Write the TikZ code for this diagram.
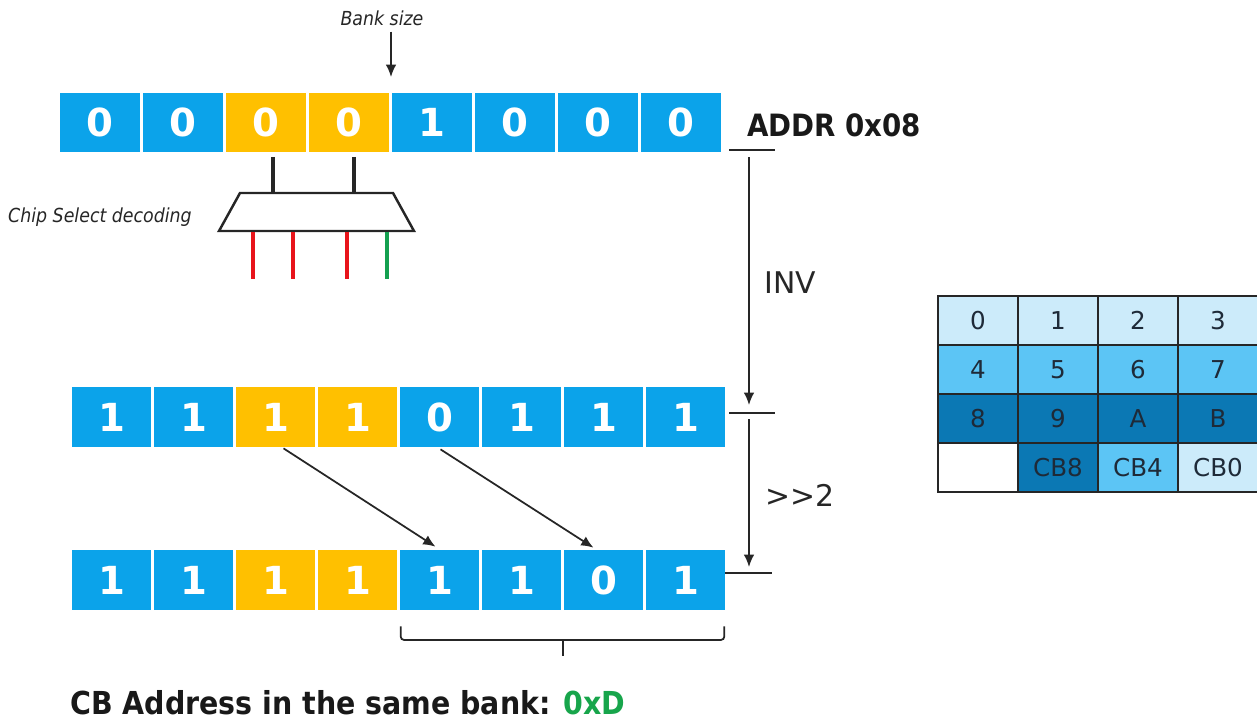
\documentclass[tikz,border=0pt]{standalone}
\usepackage{fontspec}
\setmainfont{DejaVu Sans}
\newfontfamily\condfont{DejaVu Sans Condensed}
\usetikzlibrary{arrows.meta}

\definecolor{bitblue}{HTML}{0BA3EA}
\definecolor{bitgold}{HTML}{FFC000}
\definecolor{cblight}{HTML}{CCEBFA}
\definecolor{cbmid}{HTML}{5CC5F5}
\definecolor{cbdark}{HTML}{0B78B4}
\definecolor{cbtext}{HTML}{1E2A38}
\definecolor{csred}{HTML}{E8141B}
\definecolor{csgreen}{HTML}{14A050}
\definecolor{hexgreen}{HTML}{17A54B}

\tikzset{
  topbit/.style={minimum width=1.6cm, minimum height=1.18cm, inner sep=0pt,
    text=white, font=\fontsize{22}{22}\selectfont\bfseries},
  bit/.style={topbit, minimum width=1.58cm, minimum height=1.2cm},
  cbcell/.style={draw=black!85, line width=0.9pt, minimum width=1.6cm,
    minimum height=0.98cm, inner sep=0pt, text=cbtext,
    font=\fontsize{14}{14}\selectfont},
  note/.style={font=\condfont\itshape\fontsize{11}{11}\selectfont, text=black!85},
  oplabel/.style={font=\fontsize{17}{17}\selectfont, text=black!85},
  arr/.style={-{Latex[length=7pt,width=6pt]}, line width=1pt, black!85},
  tick/.style={line width=1pt, black!85},
}

\begin{document}
\begin{tikzpicture}[x=0.02cm, y=-0.02cm]
    \useasboundingbox (0,0) rectangle (1257,725);

    % address
    \foreach \b/\c [count=\i] in {0/bitblue,0/bitblue,0/bitgold,0/bitgold,1/bitblue,0/bitblue,0/bitblue,0/bitblue}
        \node[topbit, fill=\c] (a\i) at ({100+83*(\i-1)},122) {\b};
    \node[anchor=west, font=\condfont\bfseries\fontsize{17.5}{17.5}\selectfont, text=black!90] (addr) at (741,125) {ADDR 0x08};

    % bank size
    \node[note] (banksize) at (382,18) {Bank size};
    \coordinate (bankcut) at (391,77);
    \draw[arr] (bankcut |- banksize.south) -- (bankcut);

    % chip select
    \coordinate (muxtl) at (240,193);
    \coordinate (muxtr) at (393,193);
    \coordinate (muxbr) at (414,231);
    \coordinate (muxbl) at (219,231);
    \draw[line width=1.4pt, black!85] (muxtl) -- (muxtr) -- (muxbr) -- (muxbl) -- cycle;
    \draw[line width=2.8pt, black!85] ([shift={(7,5)}]a3.south) -- ++(0,36);
    \draw[line width=2.8pt, black!85] ([shift={(5,5)}]a4.south) -- ++(0,36);
    \foreach \x/\c in {253/csred,293/csred,347/csred,387/csgreen}
        \draw[line width=2.3pt, \c] (\x,232) -- (\x,279);
    \node[note] (csd) at (100,217) {Chip Select decoding};

    % inverted
    \foreach \b/\c [count=\i] in {1/bitblue,1/bitblue,1/bitgold,1/bitgold,0/bitblue,1/bitblue,1/bitblue,1/bitblue}
        \node[bit, fill=\c] (b\i) at ({111.5+82*(\i-1)},417) {\b};

    % shifted
    \foreach \b/\c [count=\i] in {1/bitblue,1/bitblue,1/bitgold,1/bitgold,1/bitblue,1/bitblue,0/bitblue,1/bitblue}
        \node[bit, fill=\c] (c\i) at ({111.5+82*(\i-1)},580) {\b};

    % steps
    \coordinate (tick1) at (749,150);
    \coordinate (tick2) at (749,413);
    \coordinate (tick3) at (749,573);
    \draw[tick] (729,150) -- (775,150);
    \draw[tick] (729,413) -- (775,413);
    \draw[tick] (c8.east |- tick3) -- (772,573);
    \draw[arr] ([shift={(0,7)}]tick1) -- ([shift={(0,-8)}]tick2);
    \draw[arr] ([shift={(0,6)}]tick2) -- ([shift={(0,-6)}]tick3);
    \node[oplabel] (inv) at (790,283) {INV};
    \node[oplabel] (shr) at (800,495) {>{}>2};

    % bits moving
    \draw[arr] ([shift={(8,1)}]b3.south) -- ([shift={(-4,-3)}]c5.north);
    \draw[arr] ([shift={(1,2)}]b5.south) -- ([shift={(-10,-2)}]c7.north);

    % brace
    \coordinate (bracemid) at (563,640);
    \draw[tick, rounded corners=2pt] ([shift={(1,16)}]c5.south west) |- (bracemid) -| ([shift={(-1,16)}]c8.south east);
    \draw[tick] (bracemid) -- ++(0,16);

    % result
    \node[anchor=west, font=\condfont\bfseries\fontsize{18}{18}\selectfont, text=black!90] (result) at (64,703)
        {CB Address in the same bank: \textcolor{hexgreen}{0xD}};

    % CB table
    \foreach \t/\c [count=\i from 0] in {0/cblight,1/cblight,2/cblight,3/cblight,
                                         4/cbmid,5/cbmid,6/cbmid,7/cbmid,
                                         8/cbdark,9/cbdark,A/cbdark,B/cbdark,
                                         /white,CB8/cbdark,CB4/cbmid,CB0/cblight} {
        \pgfmathtruncatemacro{\col}{mod(\i,4)}
        \pgfmathtruncatemacro{\row}{int(\i/4)}
        \node[cbcell, fill=\c] (t\i) at ({978+80*\col},{320.5+49*\row}) {\t};
    }
\end{tikzpicture}
\end{document}
